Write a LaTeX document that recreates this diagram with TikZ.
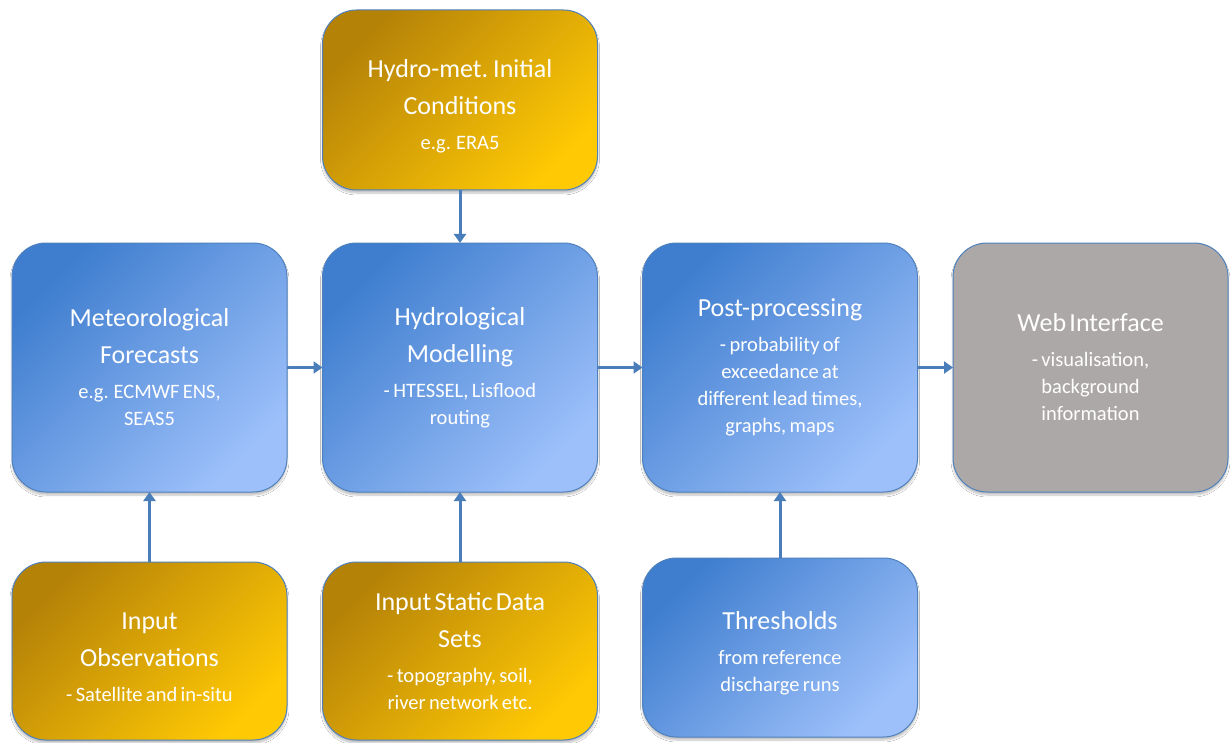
\documentclass[tikz,border=0pt]{standalone}
\usepackage{fontspec}
\setmainfont{Carlito}
\usetikzlibrary{arrows.meta,shadows.blur}
\definecolor{bdark}{HTML}{3F7ECF}
\definecolor{blight}{HTML}{9DC0FA}
\definecolor{gdark}{HTML}{B58208}
\definecolor{glight}{HTML}{FFC904}
\definecolor{grayfill}{HTML}{ACA8A7}
\definecolor{edge}{HTML}{4F81BD}
\definecolor{arr}{HTML}{4A7EBB}
\tikzset{
  box/.style={rounded corners=34pt, draw=edge, line width=1pt, minimum width=275pt,
    inner sep=0pt, outer sep=0pt, text=white, align=center, text width=265pt,
    blur shadow={shadow xshift=0pt, shadow yshift=-3pt, shadow blur steps=6, shadow opacity=25}},
  bluebox/.style={box, left color=bdark, right color=blight, shading angle=45},
  goldbox/.style={box, left color=gdark, right color=glight, shading angle=45},
  graybox/.style={box, fill=grayfill},
  conn/.style={draw=arr, line width=3pt, -{Triangle[width=12pt,length=9pt]}},
}
\newcommand{\ttl}{\fontsize{26}{37}\selectfont}
\newcommand{\sbt}{\par\vskip 8pt\fontsize{20.5}{27}\selectfont}
\newcommand{\dn}{\vskip -7pt}
\begin{document}
\begin{tikzpicture}[x=1pt,y=-1pt]
\useasboundingbox (0,0) rectangle (1230,743);
\fill[white] (0,0) rectangle (1230,743);

\node[goldbox, minimum height=180pt] (ic) at (460,100)
  {\dn\ttl Hydro-met. Initial\\Conditions\sbt e.g. ERA5\par};
\node[bluebox, minimum height=249pt] (met) at (149.5,367.5)
  {\ttl Meteorological\\Forecasts\sbt e.g. ECMWF ENS,\\SEAS5\par};
\node[bluebox, minimum height=249pt] (hyd) at (460,367.5)
  {\ttl Hydrological\\Modelling\sbt - HTESSEL, Lisflood\\routing\par};
\node[bluebox, minimum height=249pt] (post) at (780,367.5)
  {\ttl Post-processing\sbt - probability of\\exceedance at\\different lead times,\\graphs, maps\par};
\node[graybox, minimum height=249pt] (web) at (1090.5,367.5)
  {\ttl Web Interface\sbt - visualisation,\\background\\information\par};
\node[goldbox, minimum height=178pt] (obs) at (149.5,651)
  {\dn\ttl Input\\Observations\sbt - Satellite and in-situ\par};
\node[goldbox, minimum height=178pt] (stat) at (460,651)
  {\ttl Input Static Data\\Sets\sbt - topography, soil,\\river network etc.\par};
\node[bluebox, minimum height=179pt] (thr) at (780,647.5)
  {\dn\ttl Thresholds\sbt from reference\\discharge runs\par};

\draw[conn] (met) -- (hyd);
\draw[conn] (hyd) -- (post);
\draw[conn] (post) -- (web);
\draw[conn] (ic) -- (hyd);
\draw[conn] (obs) -- (met);
\draw[conn] (stat) -- (hyd);
\draw[conn] (thr) -- (post);
\end{tikzpicture}
\end{document}
